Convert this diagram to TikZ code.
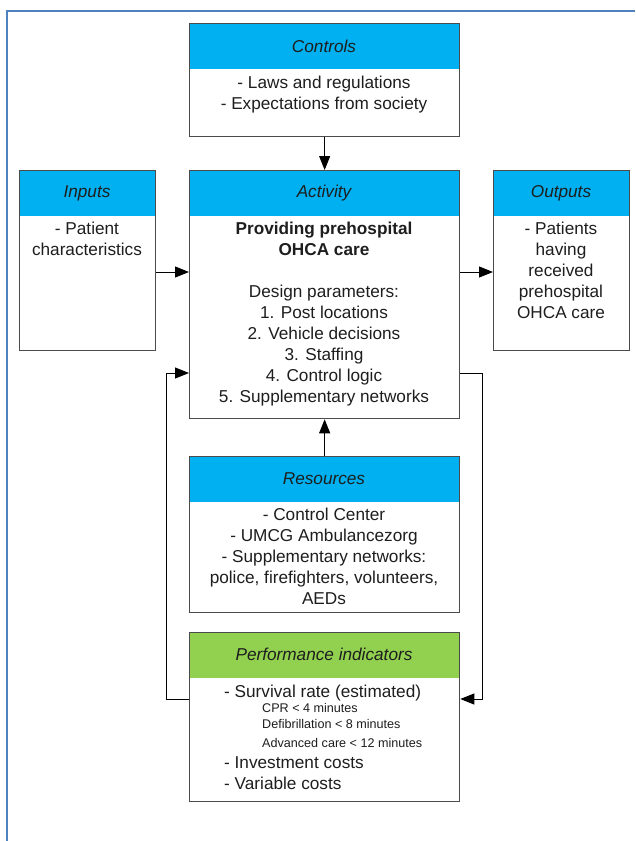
\documentclass[tikz,border=0pt]{standalone}
\usepackage{fontspec}
\setmainfont{Liberation Sans}
\usetikzlibrary{arrows.meta}
\definecolor{hdrblue}{RGB}{0,176,240}
\definecolor{hdrgreen}{RGB}{146,208,80}
\definecolor{framecol}{RGB}{79,129,189}
\definecolor{boxline}{RGB}{75,75,75}
\definecolor{txt}{RGB}{30,30,30}
\newcommand{\fstrut}{\rule{0pt}{14pt}}
\begin{document}
\begin{tikzpicture}[x=1pt,y=-1pt,
  box/.style n args={3}{draw=boxline, line width=1.3pt, fill=white, rectangle,
    anchor=north west, inner sep=0pt, minimum width=#1, minimum height=#2,
    path picture={\fill[#3] (path picture bounding box.north west) rectangle
      ([yshift=-45.5pt]path picture bounding box.north east);}},
  hdr/.style={font=\fontsize{17.2}{21}\selectfont\itshape, text=txt, anchor=base, inner sep=0pt},
  body/.style={font=\fontsize{17.2}{21}\selectfont, text=txt, align=center, anchor=north, inner sep=0pt},
  big/.style={font=\fontsize{17.2}{21}\selectfont, text=txt, anchor=base west, inner sep=0pt},
  small/.style={font=\fontsize{12.6}{15}\selectfont, text=txt, anchor=base west, inner sep=0pt},
  arr/.style={draw=black, line width=1pt, -{Triangle[length=14pt,width=11pt]}}]
\useasboundingbox (0,0) rectangle (635,841);
\draw[framecol, line width=2pt] (6.5,841) -- (6.5,11) -- (635,11);

\node[box={270pt}{113pt}{hdrblue}] (ctrl) at (189,23) {};
\node[box={270pt}{248pt}{hdrblue}] (act) at (189,170) {};
\node[box={136pt}{180pt}{hdrblue}] (inp) at (19,170) {};
\node[box={136pt}{180pt}{hdrblue}] (outp) at (493,170) {};
\node[box={270pt}{156pt}{hdrblue}] (res) at (189,456) {};
\node[box={270pt}{169pt}{hdrgreen}] (perf) at (189,632) {};

\node[hdr] (ctrlh) at (324,52) {Controls};
\node[hdr] (acth) at (324,197) {Activity};
\node[hdr] (inph) at (87,197) {Inputs};
\node[hdr] (outh) at (561,197) {Outputs};
\node[hdr] (resh) at (324,484) {Resources};
\node[hdr] (perfh) at (324,660) {Performance indicators};

\node[body] (ctrlb) at (324,74) {\fstrut- Laws and regulations\\- Expectations from society};
\node[body] (inpb) at (87,220) {\fstrut- Patient\\characteristics};
\node[body] (outb) at (561,220) {\fstrut- Patients\\having\\received\\prehospital\\OHCA care};
\node[body] (actb) at (324,220) {\fstrut\textbf{Providing prehospital}\\\textbf{OHCA care}\\[21pt]Design parameters:\\1. Post locations\\2. Vehicle decisions\\3. Staffing\\4. Control logic\\5. Supplementary networks};
\node[body] (resb) at (324,506) {\fstrut- Control Center\\- UMCG Ambulancezorg\\- Supplementary networks:\\police, firefighters, volunteers,\\AEDs};

\node[big] (p1) at (224,697) {- Survival rate (estimated)};
\node[small] (p2) at (262,712.5) {CPR < 4 minutes};
\node[small] (p3) at (262,728.5) {Defibrillation < 8 minutes};
\node[small] (p4) at (262,747.5) {Advanced care < 12 minutes};
\node[big] (p5) at (224,768) {- Investment costs};
\node[big] (p6) at (224,789) {- Variable costs};

\draw[arr] (ctrl.south) -- (act.north);
\draw[arr] (res.north) -- (act.south);
\draw[arr] (inp.east |- 0,272) -- (act.west |- 0,272);
\draw[arr] (act.east |- 0,272) -- (outp.west |- 0,272);
\draw[arr] (perf.west |- 0,699) -- (166,699) -- (166,373) -- (act.west |- 0,373);
\draw[arr] (act.east |- 0,373) -- (482,373) -- (482,699) -- (perf.east |- 0,699);
\end{tikzpicture}
\end{document}
